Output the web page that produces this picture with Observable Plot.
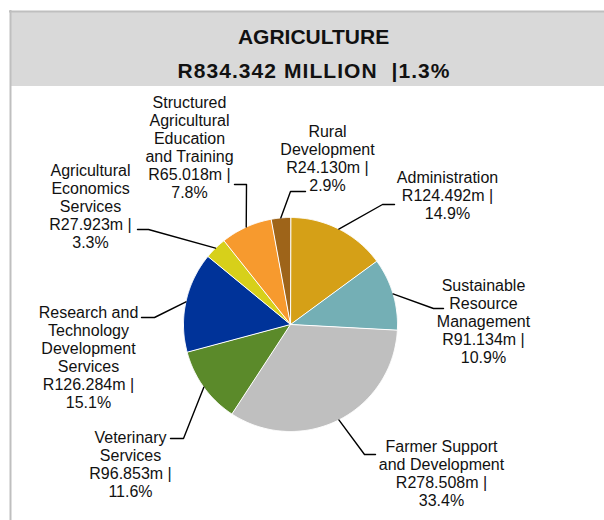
<!DOCTYPE html>
<html>
<head>
<meta charset="utf-8">
<script src="https://cdn.jsdelivr.net/npm/d3@7"></script>
<script src="https://cdn.jsdelivr.net/npm/@observablehq/plot@0.6"></script>
<style>
  body { margin: 0; background: #fff; }
  #chart svg { display: block; }
</style>
</head>
<body>
<div id="chart"></div>
<script>
// ---------- data ----------
const categories = [
  "Administration",
  "Sustainable Resource Management",
  "Farmer Support and Development",
  "Veterinary Services",
  "Research and Technology Development Services",
  "Agricultural Economics Services",
  "Structured Agricultural Education and Training",
  "Rural Development"
];
const labelNames = [
  "Administration",
  "Sustainable\nResource\nManagement",
  "Farmer Support\nand Development",
  "Veterinary\nServices",
  "Research and\nTechnology\nDevelopment\nServices",
  "Agricultural\nEconomics\nServices",
  "Structured\nAgricultural\nEducation\nand Training",
  "Rural\nDevelopment"
];
const values = [124.492, 91.134, 278.508, 96.853, 126.284, 27.923, 65.018, 24.130];
const percents = [14.9, 10.9, 33.4, 11.6, 15.1, 3.3, 7.8, 2.9];
const colors = ["#D5A017", "#74AFB5", "#BFBFBF", "#5B8A2A", "#003399", "#D7D01A", "#F79A2E", "#9E6419"];
const titleLines = ["AGRICULTURE", "R834.342 MILLION  |1.3%"];

// ---------- layout ----------
const W = 604, H = 520;
const cx = 290, cy = 324, r = 107;
const labelPos = [[447,195],[483,321],[441,473],[130,464],[88,357],[90,206],[189,147],[327,158]];
const leaderBends = [
  [[382,204],[394,204]],
  [[433,308],[443,308]],
  [[364,454],[375,454]],
  [[183,438],[170,438]],
  [[154,317],[141,317]],
  [[148,229],[137,229]],
  [[246,184],[234,184]],
  [[290,191],[305,191]]
];

// ---------- geometry from values ----------
const slices = d3.pie().sort(null).value((d, i) => values[i])(categories);
const sliceRows = [];
slices.forEach((s, i) => {
  const cat = categories[i];
  sliceRows.push({cat, x: cx, y: cy});
  const n = Math.max(2, Math.ceil((s.endAngle - s.startAngle) / 0.01));
  for (let k = 0; k <= n; k++) {
    const a = s.startAngle + (s.endAngle - s.startAngle) * k / n;
    sliceRows.push({cat, x: cx + r * Math.sin(a), y: cy - r * Math.cos(a)});
  }
});

const leaderRows = [];
slices.forEach((s, i) => {
  const a = (s.startAngle + s.endAngle) / 2;
  leaderRows.push({id: i, x: cx + r * Math.sin(a), y: cy - r * Math.cos(a)});
  leaderBends[i].forEach(([x, y]) => leaderRows.push({id: i, x, y}));
});

const labelRows = categories.map((c, i) => ({
  x: labelPos[i][0], y: labelPos[i][1],
  text: `${labelNames[i]}\nR${values[i].toFixed(3)}m |\n${percents[i]}%`
}));

const titleRows = [
  {x: 313, y: 37, text: titleLines[0]},
  {x: 313, y: 71, text: titleLines[1]}
];

const chart = Plot.plot({
  width: W, height: H,
  marginTop: 0, marginRight: 0, marginBottom: 0, marginLeft: 0,
  x: {domain: [0, W], range: [0, W], axis: null},
  y: {domain: [0, H], range: [0, H], axis: null},
  color: {domain: categories, range: colors},
  style: {background: "#fff"},
  marks: [
    Plot.rect([0], {x1: 11, x2: W, y1: 12, y2: 86, fill: "#d9d9d9"}),
    Plot.ruleY([11], {x1: 9, x2: W, stroke: "#bfbfbf", strokeWidth: 2}),
    Plot.ruleX([10], {y1: 10, y2: H, stroke: "#bfbfbf", strokeWidth: 2}),
    Plot.text(titleRows, {x: "x", y: "y", text: "text", fontSize: 21, fontWeight: "bold",
      fontFamily: "'Liberation Sans', Arial, sans-serif", fill: "#111", className: "ttl"}),
    Plot.line(sliceRows, {x: "x", y: "y", z: "cat", fill: "cat", stroke: "white",
      strokeWidth: 1, curve: "linear-closed"}),
    Plot.line(leaderRows, {x: "x", y: "y", z: "id", stroke: "#000", strokeWidth: 1.4, curve: "linear"}),
    Plot.text(labelRows, {x: "x", y: "y", text: "text", fontSize: 16, lineHeight: 1.125,
      fontFamily: "'Liberation Sans', Arial, sans-serif", fill: "#111"})
  ]
});
// widen the second title line (reference font has wider digits)
const ttl = chart.querySelectorAll("g.ttl text");
if (ttl.length > 1) {
  ttl[1].setAttribute("textLength", 272);
  ttl[1].setAttribute("lengthAdjust", "spacing");
}
document.getElementById("chart").appendChild(chart);
</script>
</body>
</html>
